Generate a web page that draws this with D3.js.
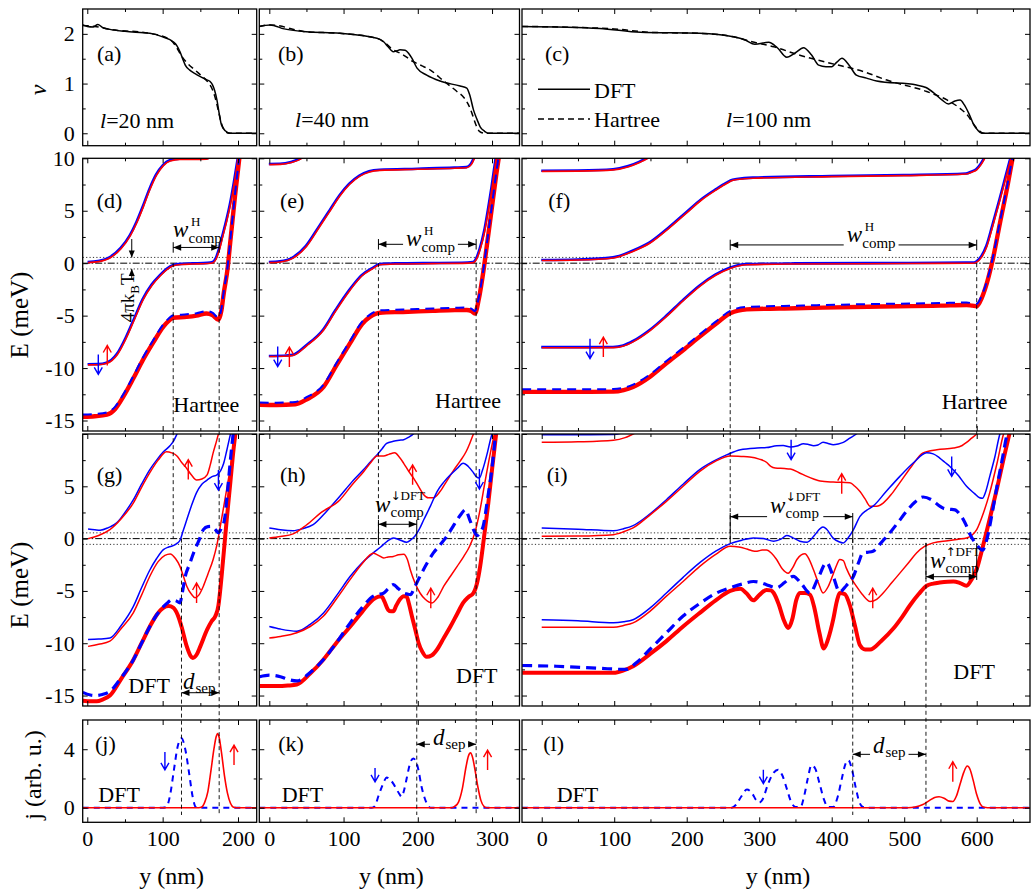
<!DOCTYPE html>
<html lang="en">
<head>
<meta charset="utf-8">
<title>edge states: Hartree vs DFT</title>
<script src="https://cdnjs.cloudflare.com/ajax/libs/d3/7.8.5/d3.min.js"></script>
<style>
  body { margin: 0; background: #fff; }
  svg { display: block; }
</style>
</head>
<body>
<script>
// grid of panels (px) and axes
var colX = [[82.7, 256.7], [259.3, 519.5], [522, 1030]];
var rowY = [[9, 145.7], [158.3, 431], [434, 706], [720, 822.3]];
var colDom = [[-6.1, 224.8], [-13.5, 337], [-27.2, 673.5]];
var colTicks = [[0, 100, 200], [0, 100, 200, 300], [0, 100, 200, 300, 400, 500, 600]];
var colMinor = [[50, 150], [50, 150, 250], [50, 150, 250, 350, 450, 550, 650]];
var rowDom = [[-0.25, 2.5], [-16, 10], [-16, 10], [-1, 6]];
var rowTicks = [[0, 1, 2], [-15, -10, -5, 0, 5, 10], [-15, -10, -5, 0, 5, 10], [0, 4]];
var rowLabels = [[0, 1, 2], [-15, -10, -5, 0, 5, 10], [-15, -10, -5, 0, 5], [0, 4]];
var rowMinor = [[0.5, 1.5], [-12.5, -7.5, -2.5, 2.5, 7.5], [-12.5, -7.5, -2.5, 2.5, 7.5], [2]];

// ---- filling factor nu(y) ----
var a_dft = [[-6,2.18],[0,2.15],[8,2.14],[14,2.19],[20,2.13],[30,2.09],[50,2.05],[83,2.01],[100,1.94],[114,1.84],[119,1.76],[123,1.64],[127,1.48],[130,1.37],[136,1.27],[143,1.2],[150,1.14],[158,1.08],[163,1.04],[166,0.98],[169,0.86],[172,0.67],[175,0.4],[178,0.17],[183,0.05],[190,0],[225,0]];
var a_har = [[-6,2.17],[10,2.15],[30,2.09],[83,2.01],[110,1.88],[118,1.74],[124,1.58],[132,1.42],[143,1.27],[152,1.15],[160,1.03],[166,0.88],[170,0.7],[174,0.45],[178,0.2],[182,0.06],[188,0],[225,0]];
var b_dft = [[-13.5,2.15],[1,2.18],[20,2.1],[50,2.04],[95,2.01],[145,1.91],[154,1.84],[160,1.74],[167,1.64],[172,1.66],[176,1.68],[183,1.67],[188,1.6],[192,1.51],[199,1.31],[212,1.17],[230,1.05],[257,0.95],[266,0.91],[270,0.77],[275,0.47],[280,0.27],[284,0.13],[290,0.04],[295,0],[337,0]];
var b_har = [[-13.5,2.15],[1,2.18],[50,2.04],[95,2.01],[145,1.91],[155,1.83],[165,1.7],[180,1.58],[194,1.44],[205,1.36],[217,1.27],[235,1.05],[252,0.85],[262,0.72],[268,0.58],[273,0.4],[278,0.18],[283,0.04],[290,0],[337,0]];
var c_dft = [[-27,2.15],[80,2.11],[136,2.03],[218,2.01],[264,1.94],[280,1.88],[294,1.79],[313,1.83],[325,1.72],[338,1.53],[350,1.62],[361,1.72],[372,1.58],[382,1.37],[392,1.34],[400,1.34],[407,1.43],[414,1.51],[424,1.37],[434,1.17],[448,1.11],[462,1.05],[517,0.97],[530,0.92],[541,0.81],[552,0.67],[561,0.59],[570,0.65],[577,0.67],[583,0.57],[590,0.37],[596,0.17],[601,0.07],[607,0],[673,0]];
var c_har = [[-27,2.15],[100,2.1],[150,2.03],[220,2.01],[265,1.94],[290,1.84],[320,1.74],[356,1.57],[398,1.41],[444,1.24],[476,1.07],[531,0.84],[559,0.67],[577,0.5],[588,0.35],[595,0.2],[602,0.07],[610,0],[673,0]];

// ---- Hartree levels E(y), meV ----
var d_top = [[1,0.05],[15,0.15],[30,0.5],[45,1.4],[57,2.6],[66,3.9],[74,5.3],[83,7.0],[92,8.4],[101,9.3],[110,9.75],[123,9.9],[140,9.9],[158,9.92],[163,10.1],[168,10.8]];
var d_mid = [[1,-9.7],[15,-9.68],[26,-9.55],[40,-8.7],[52,-7.1],[63,-5.3],[74,-3.5],[86,-2.1],[97,-1.2],[106,-0.6],[114,-0.25],[125,-0.12],[140,-0.08],[160,-0.03],[167,0.05],[171,0.4],[175,1.2],[180,2.6],[185,4.0],[190,5.6],[195,7.6],[200,9.8],[203,11]];
var d_botUp = [[-6,-14.65],[10,-14.6],[26,-14.45],[37,-13.9],[48,-12.7],[61,-11.0],[74,-9.2],[88,-7.5],[101,-6.05],[108,-5.5],[114,-5.2],[132,-5.12],[145,-5.0],[158,-4.8],[166,-4.95],[174,-5.4],[178,-4.5],[181,-2.9],[186,-0.6],[190,2.2],[196,6.4],[203,10.8]];
var d_botDn = [[-6,-14.5],[10,-14.45],[26,-14.3],[37,-13.75],[48,-12.55],[61,-10.85],[74,-9.05],[88,-7.35],[101,-5.9],[108,-5.35],[114,-5.05],[132,-4.95],[145,-4.85],[158,-4.65],[166,-4.8],[174,-5.25],[178,-4.4],[181,-2.8],[186,-0.5],[190,2.3],[196,6.5],[203,10.9]];

var e_top3 = [[0,9.4],[15,9.42],[30,9.6],[40,9.85],[48,10.2]];
var e_top = [[0,0.05],[15,0.12],[32,0.48],[50,1.6],[68,3.5],[82,5.0],[95,6.4],[108,7.5],[122,8.3],[135,8.7],[149,8.85],[200,8.95],[250,9.05],[266,9.1],[272,9.4],[277,10.1]];
var e_mid = [[0,-8.9],[20,-8.88],[32,-8.8],[50,-7.9],[73,-6.4],[90,-4.5],[109,-2.55],[125,-1.2],[140,-0.5],[149,-0.15],[170,-0.08],[220,-0.04],[260,-0.02],[275,0.05],[280,0.5],[284,1.3],[290,3.0],[295,5.0],[300,7.2],[306,10.2]];
var e_botUp = [[-13,-13.5],[10,-13.52],[35,-13.45],[50,-13.0],[73,-11.8],[90,-9.8],[109,-7.6],[125,-5.8],[136,-5.1],[149,-4.72],[180,-4.65],[220,-4.55],[250,-4.48],[266,-4.46],[272,-4.55],[277,-4.8],[282,-3.5],[288,-0.95],[294,2.2],[300,5.4],[306,8.6],[310,10.5]];
var e_botDn = [[-13,-13.35],[10,-13.38],[35,-13.3],[50,-12.85],[73,-11.65],[90,-9.65],[109,-7.45],[125,-5.65],[136,-4.95],[149,-4.57],[180,-4.5],[220,-4.4],[250,-4.33],[266,-4.3],[272,-4.4],[277,-4.65],[282,-3.4],[288,-0.85],[294,2.3],[300,5.5],[306,8.7],[310,10.6]];

var f_top3 = [[0,8.75],[50,8.78],[99,8.9],[120,9.2],[135,9.6],[149,10.1]];
var f_top = [[0,0.25],[50,0.3],[99,0.5],[125,1.1],[149,1.9],[175,3.3],[200,4.8],[220,6.0],[241,7.0],[255,7.6],[264,7.9],[280,8.05],[292,8.1],[400,8.25],[500,8.35],[586,8.5],[594,8.7],[600,8.9],[606,9.4],[612,10.1]];
var f_mid = [[0,-8.06],[50,-8.06],[99,-8.05],[113,-7.9],[126,-7.5],[150,-6.4],[172,-5.1],[195,-3.6],[218,-2.2],[240,-1.15],[260,-0.5],[283,-0.15],[350,-0.08],[450,-0.05],[550,-0.02],[595,0],[600,0.1],[607,0.6],[614,1.6],[622,3.5],[632,6.0],[640,8.1],[648,10.2]];
var f_botUp = [[-27,-12.27],[50,-12.27],[99,-12.25],[113,-12.1],[126,-11.8],[150,-10.8],[172,-9.55],[195,-8.3],[218,-7.0],[240,-5.8],[260,-4.78],[283,-4.4],[350,-4.3],[450,-4.15],[550,-4.05],[586,-3.98],[594,-4.05],[600,-4.1],[607,-3.3],[614,-1.9],[622,0.3],[632,3.8],[642,7.2],[650,10.2]];
var f_botDn = [[-27,-12.1],[50,-12.1],[99,-12.08],[113,-11.95],[126,-11.65],[150,-10.65],[172,-9.4],[195,-8.15],[218,-6.85],[240,-5.65],[260,-4.63],[283,-4.25],[350,-4.13],[450,-3.98],[550,-3.88],[586,-3.82],[594,-3.9],[600,-3.95],[607,-3.15],[614,-1.8],[622,0.4],[632,3.9],[642,7.3],[650,10.3]];

// ---- DFT levels, spin down (blue) and spin up (red) ----
var g_dn2 = [[1,0.93],[10,0.85],[17,0.8],[28,1.05],[39,1.5],[50,2.5],[61,3.7],[72,5.2],[83,6.6],[92,7.5],[101,8.3],[110,8.9],[115,9.4],[119,10.0],[122,10.5]];
var g_up2 = [[1,0],[15,0.3],[30,0.86],[45,1.9],[61,3.4],[72,4.9],[83,6.3],[94,7.5],[105,8.3],[112,8.2],[119,7.9],[125,7.3],[130,6.9],[138,6.1],[145,5.6],[152,5.7],[159,6.1],[163,7.0],[167,8.2],[171,9.2],[174,10.0],[176,10.5]];
var g_dn1 = [[1,-9.65],[15,-9.6],[30,-9.5],[45,-8.3],[61,-6.5],[72,-4.7],[83,-3.0],[92,-1.9],[101,-1.05],[108,-0.8],[114,-0.67],[119,-0.45],[123,-0.16],[127,0.7],[132,1.8],[138,3.1],[145,4.4],[152,5.2],[159,5.6],[165,5.9],[172,6.1],[177,6.5],[181,7.2],[185,8.4],[190,10.0],[192,10.6]];
var g_up1 = [[1,-10.3],[15,-10.1],[30,-9.8],[45,-8.6],[61,-7.1],[72,-5.4],[83,-3.6],[94,-2.2],[103,-1.6],[110,-1.46],[117,-1.9],[123,-2.65],[128,-3.7],[132,-4.55],[138,-5.3],[143,-5.65],[148,-5.4],[154,-4.55],[160,-3.4],[167,-2.0],[172,-0.6],[178,1.8],[184,4.3],[190,6.9],[196,10.2]];
var g_dn0 = [[-6,-14.7],[4,-14.95],[12,-15.0],[20,-14.9],[30,-14.6],[45,-13.3],[61,-11.6],[72,-10.0],[83,-8.4],[92,-7.3],[101,-6.5],[107,-6.1],[112,-5.85],[118,-5.95],[123,-6.15],[126,-5.2],[130,-3.6],[136,-2.4],[141,-1.37],[148,-0.2],[154,0.86],[160,1.15],[165,1.17],[170,0.85],[174,0.55],[178,1.0],[182,1.8],[186,4.5],[190,7.6],[194,10.3]];
var g_up0 = [[-6,-15.5],[5,-15.55],[12.5,-15.55],[20,-15.4],[30,-15.0],[45,-13.4],[61,-11.6],[72,-10.0],[83,-8.4],[92,-7.3],[101,-6.6],[108,-6.45],[114,-6.6],[120,-7.3],[125,-8.4],[132,-10.3],[137,-11.2],[140,-11.4],[145,-11.1],[150,-10.3],[159,-8.7],[165,-7.9],[170,-7.4],[174,-6.4],[176,-5.2],[180,-2.2],[185,1.8],[190,5.5],[194,8.5],[197,10.3]];

var h_dn2 = [[0,1.02],[15,0.85],[32,0.76],[45,0.95],[59,1.34],[77,2.6],[95,4.04],[111,5.4],[127,6.6],[137,7.4],[145,8.0],[152,8.6],[158,9.1],[167,9.3],[175,9.4],[181,9.45],[188,9.7],[194,10.0],[198,10.3]];
var h_up2 = [[0,0.05],[15,0.2],[32,0.45],[50,1.3],[70,2.5],[95,3.7],[111,5.1],[127,6.4],[137,7.3],[145,7.9],[154,7.9],[161,8.05],[169,8.2],[175,7.8],[181,7.2],[188,6.4],[194,5.8],[201,5.0],[208,4.2],[214,3.9],[221,3.9],[230,4.5],[239,5.5],[248,6.5],[257,7.4],[265,8.3],[270,9.1],[275,10.0],[278,10.5]];
var h_dn1 = [[0,-8.4],[15,-8.65],[37,-8.85],[55,-8.2],[73,-7.1],[91,-5.4],[109,-3.6],[125,-2.3],[140,-1.37],[150,-0.8],[158,-0.3],[167,0.07],[175,-0.1],[185,-0.35],[191,-0.1],[196,0.22],[202,0.9],[208,1.8],[217,3.1],[226,4.5],[235,5.4],[244,6.1],[253,6.7],[261,7.2],[268,6.9],[275,6.3],[279,5.9],[283,5.8],[287,6.5],[293,8.0],[298,9.5],[302,10.5]];
var h_up1 = [[0,-9.5],[15,-9.35],[37,-9.0],[55,-8.4],[73,-7.4],[91,-5.7],[109,-3.9],[125,-2.4],[140,-1.4],[147,-1.6],[154,-1.85],[160,-1.75],[167,-1.7],[174,-1.55],[181,-1.5],[186,-2.0],[190,-3.0],[196,-4.2],[203,-5.2],[210,-5.8],[219,-6.15],[227,-5.6],[235,-4.55],[244,-3.6],[253,-2.65],[262,-1.7],[270,-0.7],[277,0.6],[284,2.8],[290,5.2],[297,7.9],[304,10.3]];
var h_dn0 = [[-13,-13.2],[0,-13.05],[15,-13.2],[25,-13.45],[37,-13.6],[55,-12.8],[73,-11.55],[91,-9.9],[109,-8.05],[125,-6.6],[140,-5.5],[147,-5.35],[154,-5.2],[160,-4.8],[167,-4.4],[174,-4.8],[181,-5.2],[186,-5.3],[190,-5.35],[196,-4.6],[203,-3.6],[212,-2.4],[221,-1.37],[230,-0.6],[239,0.22],[246,1.0],[253,1.8],[259,2.4],[264,2.77],[270,1.8],[275,0.86],[280,0.29],[284,0.6],[288,1.17],[294,3.8],[300,6.8],[305,10.2]];
var h_up0 = [[-13,-14.1],[10,-14.1],[25,-14.05],[37,-13.95],[55,-12.9],[73,-11.55],[91,-9.9],[109,-8.4],[125,-7.0],[140,-5.8],[147,-5.55],[151,-5.5],[155,-6.0],[160,-6.8],[164,-6.95],[167,-6.95],[171,-6.4],[176,-5.8],[181,-5.5],[185,-5.55],[188,-6.2],[192,-7.4],[197,-8.8],[201,-9.95],[206,-10.8],[212,-11.3],[219,-11.15],[226,-10.6],[235,-9.5],[244,-8.4],[253,-7.2],[261,-6.15],[268,-5.6],[275,-5.2],[280,-4.2],[284,-2.65],[289,0.0],[295,3.4],[300,6.6],[306,10.3]];

var i_dn3 = [[0,9.93],[50,9.93],[99,9.95],[115,10.2]];
var i_up3 = [[0,9.2],[50,9.25],[99,9.4],[115,9.65],[129,10.1]];
var i_dn2 = [[0,1.02],[50,0.9],[99,0.76],[113,0.95],[126,1.24],[150,2.4],[172,3.72],[195,5.2],[218,6.6],[237,7.4],[255,8.0],[274,8.5],[297,8.66],[310,8.7],[324,8.88],[333,8.9],[343,8.76],[352,8.85],[361,9.07],[368,9.0],[375,8.88],[381,8.95],[388,9.2],[395,9.1],[402,8.98],[409,9.05],[416,9.2],[425,9.6],[434,10.0],[440,10.4]];
var i_up2 = [[0,0.22],[50,0.25],[99,0.38],[113,0.65],[126,1.02],[150,2.3],[172,3.56],[195,5.0],[218,6.43],[240,7.4],[260,7.9],[275,7.85],[287,7.8],[300,7.6],[310,7.3],[316,6.9],[322,6.75],[335,6.7],[343,6.65],[355,6.3],[366,5.95],[375,5.7],[384,5.5],[402,5.4],[425,5.35],[432,5.0],[439,4.5],[446,3.8],[453,3.1],[462,3.1],[471,3.4],[483,4.3],[494,5.35],[510,6.9],[526,8.2],[545,8.5],[568,8.66],[580,8.9],[586,9.2],[593,9.6],[600,10.0],[605,10.4]];
var i_dn1 = [[0,-7.75],[50,-7.85],[99,-8.05],[113,-7.95],[126,-7.75],[150,-6.6],[172,-5.2],[195,-3.7],[218,-2.3],[240,-1.2],[260,-0.48],[276,-0.15],[292,0.06],[306,0.0],[320,-0.25],[330,-0.05],[338,0.29],[346,0.1],[356,-0.25],[366,-0.35],[376,0.3],[384,0.95],[388,1.1],[393,0.9],[402,0.05],[410,-0.3],[416,-0.41],[423,0.1],[430,0.86],[439,2.13],[448,2.7],[457,3.1],[475,4.5],[494,5.95],[512,7.2],[531,8.2],[540,8.1],[549,7.7],[556,7.3],[563,6.9],[575,6.0],[586,5.0],[597,4.3],[604,3.9],[608,3.85],[612,4.4],[618,5.95],[625,7.8],[632,10.0],[636,10.6]];
var i_up1 = [[0,-8.47],[50,-8.47],[99,-8.47],[113,-8.3],[126,-8.05],[150,-6.9],[172,-5.5],[195,-4.1],[218,-2.65],[240,-1.5],[260,-0.73],[272,-0.8],[283,-1.0],[290,-1.15],[297,-1.2],[304,-1.1],[310,-1.1],[317,-1.4],[324,-2.0],[332,-2.9],[340,-3.3],[346,-2.8],[352,-2.0],[358,-1.55],[363,-1.45],[369,-2.0],[375,-3.0],[382,-4.3],[388,-5.2],[395,-4.6],[402,-3.4],[407,-2.5],[411,-2.0],[416,-2.1],[420,-2.8],[427,-3.8],[434,-4.55],[443,-5.4],[453,-6.0],[462,-5.8],[471,-5.2],[483,-4.2],[494,-3.3],[506,-2.3],[517,-1.37],[528,-0.75],[540,-0.41],[560,-0.2],[575,-0.05],[586,0.06],[593,0.3],[600,0.86],[609,2.4],[618,4.4],[628,7.2],[637,10.0],[640,10.6]];
var i_dn0 = [[-27,-12.13],[20,-12.2],[80,-12.4],[116,-12.5],[130,-11.9],[149,-10.6],[172,-9.0],[195,-7.4],[218,-6.2],[241,-5.2],[260,-4.7],[276,-4.35],[292,-4.1],[302,-4.2],[310,-4.4],[324,-4.7],[335,-4.2],[347,-3.6],[358,-4.3],[370,-5.2],[381,-3.8],[393,-2.3],[402,-3.6],[411,-5.1],[420,-4.5],[430,-3.6],[437,-2.3],[443,-1.37],[450,-1.3],[457,-1.2],[468,-0.4],[480,0.54],[492,1.6],[503,2.6],[515,3.5],[526,3.98],[538,3.7],[549,3.1],[556,2.85],[563,2.8],[570,2.75],[577,2.3],[584,1.5],[591,0.38],[600,-0.6],[608,-1.1],[614,-0.06],[621,2.3],[628,5.0],[635,7.5],[642,10.0],[645,10.6]];
var i_up0 = [[-27,-12.83],[50,-12.83],[99,-12.83],[113,-12.6],[126,-12.2],[150,-11.0],[172,-9.8],[195,-8.4],[218,-7.1],[240,-5.9],[260,-5.0],[274,-4.8],[282,-5.2],[292,-5.9],[300,-5.4],[310,-4.9],[316,-4.95],[320,-5.2],[327,-6.3],[334,-7.8],[340,-8.55],[346,-7.6],[351,-5.9],[356,-5.2],[363,-5.2],[370,-5.35],[376,-6.6],[383,-9.0],[389,-10.5],[395,-9.6],[402,-7.75],[407,-6.0],[411,-5.2],[418,-5.3],[425,-6.37],[432,-8.3],[439,-10.2],[446,-10.6],[453,-10.6],[468,-9.8],[485,-8.6],[497,-7.5],[508,-6.37],[520,-5.3],[531,-4.5],[540,-4.3],[549,-4.2],[560,-4.12],[568,-4.1],[577,-4.25],[586,-4.5],[593,-3.9],[600,-2.9],[609,-0.6],[618,1.9],[628,4.8],[637,7.6],[646,10.3]];

// ---- current density j(y) ----
var j_dn = [[-6,0],[100,0],[105,0.05],[110,0.9],[115,2.6],[120,4.2],[125,4.75],[130,4.0],[135,2.4],[140,0.7],[144,0.05],[150,0],[225,0]];
var j_up = [[-6,0],[148,0],[152,0.05],[156,0.4],[160,1.1],[164,2.5],[168,4.0],[171,4.85],[173,5.07],[175,4.8],[178,3.8],[182,2.2],[186,1.0],[190,0.3],[194,0.03],[198,0],[225,0]];
var k_dn = [[-13.5,0],[138,0],[142,0.1],[147,0.8],[151,1.35],[155,1.85],[158,2.07],[162,1.95],[167,1.65],[171,1.3],[175,0.95],[178,0.75],[181,1.1],[185,2.0],[190,3.1],[194,3.37],[198,3.1],[201,2.55],[205,1.45],[209,0.7],[213,0.2],[217,0],[337,0]];
var k_up = [[-13.5,0],[246,0],[250,0.1],[255,0.4],[260,1.3],[265,2.8],[268,3.5],[271,3.75],[274,3.4],[277,2.6],[281,1.4],[285,0.5],[289,0.1],[293,0],[337,0]];
var l_dn = [[-27,0],[262,0],[268,0.2],[275,0.75],[283,1.25],[290,1.0],[296,0.5],[300,0.35],[305,0.6],[312,1.6],[320,2.4],[326,2.6],[332,2.2],[338,1.3],[344,0.4],[350,0.05],[357,0.05],[362,0.8],[367,2.0],[372,2.9],[377,2.7],[383,1.7],[389,0.6],[395,0.05],[402,0.05],[408,0.7],[414,2.0],[419,3.0],[423,3.25],[428,2.6],[433,1.4],[438,0.4],[443,0.05],[450,0],[673,0]];
var l_up = [[-27,0],[505,0],[515,0.05],[525,0.2],[535,0.5],[542,0.7],[548,0.75],[555,0.65],[562,0.45],[567,0.42],[572,0.8],[577,1.6],[582,2.4],[587,2.85],[591,2.6],[595,1.9],[600,0.9],[605,0.25],[610,0.03],[615,0],[673,0]];

var RED = "#ff0000", BLUE = "#0000ff";
var FONT = '"Liberation Serif", "Times New Roman", serif';
var styles = {
  dft:   {stroke: "#000", w: 1.5},
  har:   {stroke: "#000", w: 1.5, dash: "6,4"},
  hB:    {stroke: BLUE, w: 2.6, shift: [-0.5, -0.6]},
  hR:    {stroke: RED, w: 1.6},
  thinB: {stroke: BLUE, w: 1.5},
  thinR: {stroke: RED, w: 1.5},
  thickR:{stroke: RED, w: 4},
  hThickR:{stroke: RED, w: 4.4},
  dashB: {stroke: BLUE, w: 3.2, dash: "10,6"},
  hDashB:{stroke: BLUE, w: 2, dash: "9,6", shift: [0, -0.8]},
  jR:    {stroke: RED, w: 1.6},
  jB:    {stroke: BLUE, w: 2, dash: "6,5"}
};

// what goes in each panel, in drawing order
var series = [
  ["a", a_har, "har"], ["a", a_dft, "dft"],
  ["b", b_har, "har"], ["b", b_dft, "dft"],
  ["c", c_har, "har"], ["c", c_dft, "dft"],
  ["d", d_top, "hB"], ["d", d_top, "hR"], ["d", d_mid, "hB"], ["d", d_mid, "hR"],
  ["d", d_botUp, "hThickR"], ["d", d_botDn, "hDashB"],
  ["e", e_top3, "hB"], ["e", e_top3, "hR"], ["e", e_top, "hB"], ["e", e_top, "hR"], ["e", e_mid, "hB"], ["e", e_mid, "hR"],
  ["e", e_botUp, "hThickR"], ["e", e_botDn, "hDashB"],
  ["f", f_top3, "hB"], ["f", f_top3, "hR"], ["f", f_top, "hB"], ["f", f_top, "hR"], ["f", f_mid, "hB"], ["f", f_mid, "hR"],
  ["f", f_botUp, "hThickR"], ["f", f_botDn, "hDashB"],
  ["g", g_dn2, "thinB"], ["g", g_up2, "thinR"], ["g", g_dn1, "thinB"], ["g", g_up1, "thinR"],
  ["g", g_up0, "thickR"], ["g", g_dn0, "dashB"],
  ["h", h_dn2, "thinB"], ["h", h_up2, "thinR"], ["h", h_dn1, "thinB"], ["h", h_up1, "thinR"],
  ["h", h_up0, "thickR"], ["h", h_dn0, "dashB"],
  ["i", i_dn3, "thinB"], ["i", i_up3, "thinR"], ["i", i_dn2, "thinB"], ["i", i_up2, "thinR"],
  ["i", i_dn1, "thinB"], ["i", i_up1, "thinR"], ["i", i_up0, "thickR"], ["i", i_dn0, "dashB"],
  ["j", j_dn, "jB"], ["j", j_up, "jR"],
  ["k", k_dn, "jB"], ["k", k_up, "jR"],
  ["l", l_dn, "jB"], ["l", l_up, "jR"]
];

// black dashed guides: column, y (nm), [row, value] -> [row, value]
var guides = [
  [0, 114, [1, 0], [2, 0]], [0, 175, [1, 0], [3, -0.5]], [0, 125, [2, 0], [3, -0.5]],
  [1, 147, [1, 0], [2, 0]], [1, 278.6, [1, 0], [3, -0.5]], [1, 198.6, [2, 0], [3, -0.5]],
  [2, 260, [1, 0], [2, 0]], [2, 600, [1, 0], [2, 10]], [2, 429, [2, 0], [3, -0.5]], [2, 530, [2, -0.4], [3, -0.5]]
];
// width arrows: panel, from, to, level, letter, superscript (arrow, text), label y(nm), label level, break line
var widths = [
  ["d", 114, 175, 1.5, "w", ["", "H"], 113.7, 2.5, false],
  ["e", 147, 278.6, 1.8, "w", ["", "H"], 184.2, 1.64, true],
  ["f", 260, 600, 1.74, "w", ["", "H"], 420.7, 2.0, true],
  ["h", 147, 198.6, 1.37, "w", ["\u2193", "DFT"], 142.4, 2.57, false],
  ["i", 260, 429, 2.1, "w", ["\u2193", "DFT"], 315, 2.45, true],
  ["i", 530, 600, -3.64, "w", ["\u2191", "DFT"], 535.6, -2.81, false],
  ["g", 125, 175, -14.73, "d", null, 126.9, -14.38, false],
  ["k", 198.6, 278.6, 4.34, "d", null, 220.5, 4.29, true],
  ["l", 429, 530, 3.65, "d", null, 457, 3.74, true]
];
var endBars = [
  ["d", 114, 2.0, 1.0], ["d", 175, 2.0, 1.0], ["e", 147, 2.3, 1.3], ["e", 278.6, 2.3, 1.3],
  ["f", 260, 2.24, 1.24], ["f", 600, 2.24, 1.24], ["h", 147, 1.78, -0.6], ["h", 198.6, 1.78, -0.4],
  ["i", 260, 2.45, -0.42], ["i", 429, 2.45, -0.42], ["i", 530, -0.42, -3.85], ["i", 600, -0.42, -3.95]
];
// spin arrows: panel, y(nm), centre value, direction, colour, length px
var spins = [
  ["d", 14.6, -9.65, "dn", BLUE], ["d", 26.5, -8.8, "up", RED],
  ["e", 11.3, -8.9, "dn", BLUE], ["e", 27, -8.95, "up", RED],
  ["f", 66.6, -8.15, "dn", BLUE], ["f", 85, -8.0, "up", RED],
  ["g", 134, 6.6, "up", RED], ["g", 174, 5.6, "dn", BLUE], ["g", 145, -5.2, "up", RED],
  ["h", 193, 6.1, "up", RED], ["h", 283, 5.7, "dn", BLUE], ["h", 217.5, -5.7, "up", RED],
  ["i", 344, 8.5, "dn", BLUE], ["i", 413.8, 5.25, "up", RED], ["i", 565.5, 6.9, "dn", BLUE], ["i", 456.6, -5.7, "up", RED],
  ["j", 103, 3.2, "dn", BLUE, 18], ["j", 194.7, 3.6, "up", RED],
  ["k", 142.4, 2.24, "dn", BLUE, 14], ["k", 294, 3.26, "up", RED],
  ["l", 305.7, 2.12, "dn", BLUE, 14], ["l", 567, 2.46, "up", RED]
];
// labels relative to panel top-left (px)
var panelText = [
  ["a", 14.3, 52, "(a)"], ["b", 18.7, 52, "(b)"], ["c", 23, 52, "(c)"],
  ["d", 14, 49.4, "(d)"], ["e", 20.7, 49.4, "(e)"], ["f", 26.3, 49.4, "(f)"],
  ["g", 14, 48, "(g)"], ["h", 20.7, 48, "(h)"], ["i", 24.7, 48, "(i)"],
  ["j", 12.3, 31, "(j)"], ["k", 19, 31, "(k)"], ["l", 21.3, 31, "(l)"],
  ["d", 90.6, 253.4, "Hartree"], ["e", 175.7, 249.7, "Hartree"], ["f", 419.7, 250.7, "Hartree"],
  ["g", 45.6, 259, "DFT"], ["h", 196.7, 249, "DFT"], ["i", 431.3, 245, "DFT"],
  ["j", 15.6, 81.7, "DFT"], ["k", 22.4, 81.7, "DFT"], ["l", 34.7, 81.7, "DFT"],
  ["c", 72, 89, "DFT"], ["c", 72, 118.3, "Hartree"]
];
var lengthText = [["a", 17.3, 118.7, "20"], ["b", 35.7, 118, "40"], ["c", 204, 118, "100"]];

// ---------- drawing ----------
var svg = d3.select("body").append("svg").attr("width", 1034).attr("height", 892)
  .attr("font-family", FONT).attr("fill", "#000");
svg.append("rect").attr("width", 1034).attr("height", 892).attr("fill", "#fff");
var defs = svg.append("defs");

var ids = [["a", "b", "c"], ["d", "e", "f"], ["g", "h", "i"], ["j", "k", "l"]];
var P = {};
ids.forEach(function(row, r) {
  row.forEach(function(id, c) {
    var x0 = colX[c][0], x1 = colX[c][1], y0 = rowY[r][0], y1 = rowY[r][1];
    P[id] = {
      id: id, r: r, c: c, x0: x0, x1: x1, y0: y0, y1: y1,
      x: d3.scaleLinear().domain(colDom[c]).range([x0, x1]),
      y: d3.scaleLinear().domain(rowDom[r]).range([y1, y0])
    };
    defs.append("clipPath").attr("id", "clip-" + id).append("rect")
      .attr("x", x0).attr("y", y0).attr("width", x1 - x0).attr("height", y1 - y0);
  });
});

var gRef = svg.append("g"), gCurves = svg.append("g"), gGuide = svg.append("g"),
    gAnn = svg.append("g"), gAxes = svg.append("g"), gFrame = svg.append("g");

// reference lines (Fermi level and the 4 pi kT band) across rows 2 and 3
[1, 2].forEach(function(r) {
  var y = P[ids[r][0]].y;
  gRef.append("line").attr("x1", colX[0][0]).attr("x2", colX[2][1]).attr("y1", y(0)).attr("y2", y(0))
    .attr("stroke", "#000").attr("stroke-width", 1).attr("stroke-dasharray", "7,2,1.5,2");
  [0.55, -0.55].forEach(function(v) {
    gRef.append("line").attr("x1", colX[0][0]).attr("x2", colX[2][1]).attr("y1", y(v)).attr("y2", y(v))
      .attr("stroke", "#333").attr("stroke-width", 1).attr("stroke-dasharray", "1.2,2.2");
  });
});

// curves
series.forEach(function(s) {
  var p = P[s[0]], st = styles[s[2]];
  var line = d3.line().x(function(d) { return p.x(d[0]); }).y(function(d) { return p.y(d[1]); })
    .curve(d3.curveMonotoneX);
  gCurves.append("g").attr("clip-path", "url(#clip-" + p.id + ")")
    .append("path").attr("d", line(s[1]))
    .attr("fill", "none").attr("stroke", st.stroke).attr("stroke-width", st.w)
    .attr("stroke-dasharray", st.dash || null).attr("stroke-linejoin", "round")
    .attr("transform", st.shift ? "translate(" + st.shift[0] + "," + st.shift[1] + ")" : null);
});

// legend in (c)
var pc = P.c;
[[80.3, null], [110, "6,4"]].forEach(function(l) {
  gAnn.append("line").attr("x1", pc.x0 + 16).attr("x2", pc.x0 + 68)
    .attr("y1", pc.y0 + l[0]).attr("y2", pc.y0 + l[0])
    .attr("stroke", "#000").attr("stroke-width", 1.5).attr("stroke-dasharray", l[1]);
});

// dashed guides
guides.forEach(function(gd) {
  var col = gd[0], x = P[ids[1][col]].x(gd[1]);
  var ya = P[ids[gd[2][0]][col]].y(gd[2][1]), yb = P[ids[gd[3][0]][col]].y(gd[3][1]);
  gGuide.append("line").attr("x1", x).attr("x2", x).attr("y1", ya).attr("y2", yb)
    .attr("stroke", "#000").attr("stroke-width", 0.9).attr("stroke-dasharray", "4,3");
});

endBars.forEach(function(b) {
  var p = P[b[0]];
  gAnn.append("line").attr("x1", p.x(b[1])).attr("x2", p.x(b[1])).attr("y1", p.y(b[2])).attr("y2", p.y(b[3]))
    .attr("stroke", "#000").attr("stroke-width", 1);
});

function head(xt, y, dir) {
  var L = 8, hw = 3.2;
  gAnn.append("path").attr("d", "M" + xt + "," + y + "L" + (xt - dir * L) + "," + (y - hw) + "L" + (xt - dir * L) + "," + (y + hw) + "Z")
    .attr("fill", "#000");
}

widths.forEach(function(wd) {
  var p = P[wd[0]], xa = p.x(wd[1]), xb = p.x(wd[2]), y = p.y(wd[3]);
  var lx = p.x(wd[6]), ly = p.y(wd[7]);
  var g = gAnn.append("g");
  g.append("text").attr("x", lx).attr("y", ly).attr("font-size", 23).attr("font-style", "italic").text(wd[4]);
  if (wd[4] === "w") {
    var isH = wd[5][1] === "H";
    var sup = g.append("text").attr("x", lx + (isH ? 18 : 15.5)).attr("y", ly + (isH ? -11 : -12)).attr("font-size", 13);
    if (wd[5][0]) sup.append("tspan").attr("font-family", '"DejaVu Sans", sans-serif').attr("font-size", 12).text(wd[5][0]);
    sup.append("tspan").text(wd[5][1]);
    g.append("text").attr("x", lx + 15.5).attr("y", ly + (isH ? 6 : 5)).attr("font-size", 15).text("comp");
  } else {
    g.append("text").attr("x", lx + 12.5).attr("y", ly + 4).attr("font-size", 15).text("sep");
  }
  var segs = [[xa, xb]];
  if (wd[8]) {
    var bb = g.node().getBBox();
    segs = [[xa, bb.x - 3], [bb.x + bb.width + 3, xb]];
  }
  segs.forEach(function(s) {
    gAnn.append("line").attr("x1", s[0]).attr("x2", s[1]).attr("y1", y).attr("y2", y)
      .attr("stroke", "#000").attr("stroke-width", 1);
  });
  head(xa, y, -1);
  head(xb, y, 1);
});

// 4 pi kB T band marker in (d)
(function() {
  var p = P.d, x = p.x(59);
  gAnn.append("line").attr("x1", x).attr("x2", x).attr("y1", p.y(2.3)).attr("y2", p.y(0.55)).attr("stroke", "#000");
  gAnn.append("line").attr("x1", x).attr("x2", x).attr("y1", p.y(-1.6)).attr("y2", p.y(-0.55)).attr("stroke", "#000");
  gAnn.append("path").attr("d", "M" + x + "," + p.y(0.55) + "l-3,-7h6z");
  gAnn.append("path").attr("d", "M" + x + "," + p.y(-0.55) + "l-3,7h6z");
  var t = gAnn.append("text").attr("transform", "translate(" + (x + 2) + "," + p.y(-3.3) + ") rotate(-90)")
    .attr("text-anchor", "middle").attr("font-size", 19);
  t.append("tspan").text("4\u03c0k");
  t.append("tspan").attr("font-size", 13).attr("dy", 5).text("B");
  t.append("tspan").attr("dy", -5).text("T");
})();

// spin arrows
spins.forEach(function(s) {
  var p = P[s[0]], cx = p.x(s[1]), cy = p.y(s[2]), L = s[5] || 20;
  var up = s[3] === "up";
  var tip = up ? cy - L / 2 : cy + L / 2, tail = up ? cy + L / 2 : cy - L / 2, k = up ? 1 : -1;
  gAnn.append("path")
    .attr("d", "M" + cx + "," + tail + "L" + cx + "," + tip + "M" + (cx - 4) + "," + (tip + k * 7) + "L" + cx + "," + tip + "L" + (cx + 4) + "," + (tip + k * 7))
    .attr("fill", "none").attr("stroke", s[4]).attr("stroke-width", 1.4);
});

// panel texts
panelText.forEach(function(t) {
  var p = P[t[0]];
  gAnn.append("text").attr("x", p.x0 + t[1]).attr("y", p.y0 + t[2]).attr("font-size", 22).text(t[3]);
});
lengthText.forEach(function(t) {
  var p = P[t[0]];
  var tx = gAnn.append("text").attr("x", p.x0 + t[1]).attr("y", p.y0 + t[2]).attr("font-size", 22);
  tx.append("tspan").attr("font-style", "italic").text("l");
  tx.append("tspan").text("=" + t[3] + " nm");
});

// axes with inward ticks on all four sides
function styleAxis(g) {
  g.select(".domain").remove();
  g.attr("font-family", null).attr("font-size", null);
  g.selectAll("line").attr("stroke", "#000").attr("stroke-width", 1);
  g.selectAll("text").attr("font-size", 22).attr("fill", "#000");
}
Object.keys(P).forEach(function(id) {
  var p = P[id], r = p.r, c = p.c;
  var ylab = function(d) { return (c === 0 && rowLabels[r].indexOf(d) >= 0) ? String(d) : ""; };
  var xlab = function(d) { return r === 3 ? String(d) : ""; };
  var none = function() { return ""; };
  [[rowTicks[r], 5, ylab], [rowMinor[r], 3, none]].forEach(function(t) {
    styleAxis(gAxes.append("g").attr("transform", "translate(" + p.x0 + ",0)")
      .call(d3.axisLeft(p.y).tickValues(t[0]).tickSize(-t[1]).tickPadding(8).tickFormat(t[2])));
    styleAxis(gAxes.append("g").attr("transform", "translate(" + p.x1 + ",0)")
      .call(d3.axisRight(p.y).tickValues(t[0]).tickSize(-t[1]).tickFormat(none)));
  });
  [[colTicks[c], 5, xlab], [colMinor[c], 3, none]].forEach(function(t) {
    styleAxis(gAxes.append("g").attr("transform", "translate(0," + p.y1 + ")")
      .call(d3.axisBottom(p.x).tickValues(t[0]).tickSize(-t[1]).tickPadding(8).tickFormat(t[2])));
    styleAxis(gAxes.append("g").attr("transform", "translate(0," + p.y0 + ")")
      .call(d3.axisTop(p.x).tickValues(t[0]).tickSize(-t[1]).tickFormat(none)));
  });
  gFrame.append("rect").attr("x", p.x0).attr("y", p.y0).attr("width", p.x1 - p.x0).attr("height", p.y1 - p.y0)
    .attr("fill", "none").attr("stroke", "#000").attr("stroke-width", 1.3);
});

// axis titles
function vTitle(x, y, size) {
  return svg.append("text").attr("transform", "translate(" + x + "," + y + ") rotate(-90)")
    .attr("text-anchor", "middle").attr("font-size", size);
}
vTitle(45.5, 90, 24).attr("font-style", "italic").text("\u03bd");
vTitle(28, 315, 25).text("E (meV)");
vTitle(28, 585, 25).text("E (meV)");
vTitle(41, 775, 24).text("j (arb. u.)");
[0, 1, 2].forEach(function(c) {
  svg.append("text").attr("x", (colX[c][0] + colX[c][1]) / 2 + 2).attr("y", 884)
    .attr("text-anchor", "middle").attr("font-size", 24).text("y (nm)");
});
</script>
</body>
</html>
